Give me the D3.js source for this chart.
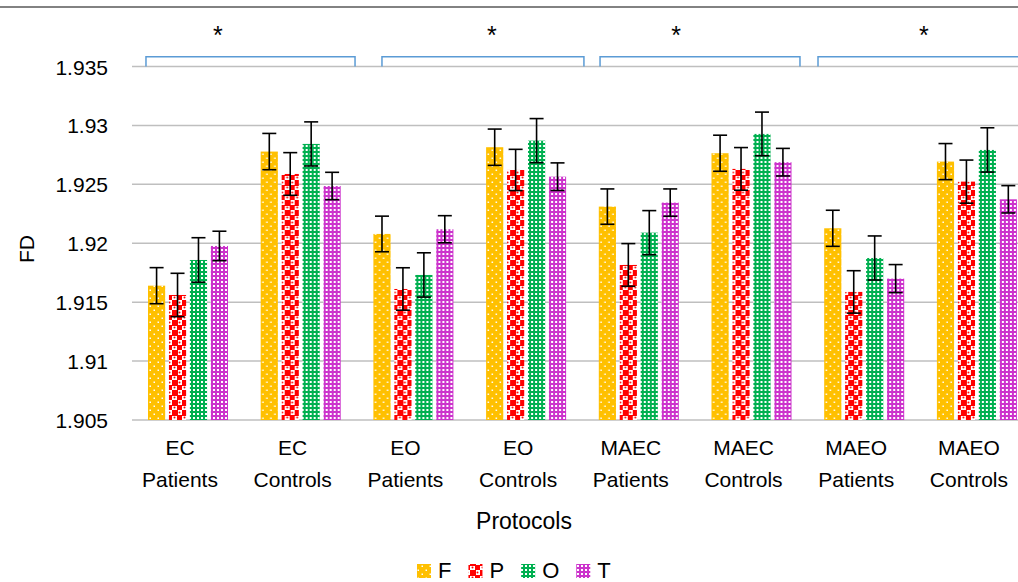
<!DOCTYPE html>
<html>
<head>
<meta charset="utf-8">
<script src="https://cdn.jsdelivr.net/npm/d3@7/dist/d3.min.js"></script>
<style>
  html, body { margin: 0; padding: 0; background: #fff; }
  svg { display: block; font-family: "Liberation Sans", Arial, sans-serif; }
</style>
</head>
<body>
<svg id="chart" width="1018" height="582"></svg>
<script>
// ---- data ----
const categories = ["EC Patients", "EC Controls", "EO Patients", "EO Controls",
                    "MAEC Patients", "MAEC Controls", "MAEO Patients", "MAEO Controls"];
const seriesNames = ["F", "P", "O", "T"];
const F = [1.91640, 1.92778, 1.92079, 1.92815, 1.92311, 1.92764, 1.92127, 1.92693];
const P = [1.91561, 1.92588, 1.91612, 1.92622, 1.91816, 1.92631, 1.91587, 1.92523];
const O = [1.91858, 1.92843, 1.91731, 1.92871, 1.92090, 1.92928, 1.91875, 1.92792];
const T = [1.91977, 1.92486, 1.92119, 1.92565, 1.92345, 1.92688, 1.91700, 1.92373];
const Ferr = [0.00153, 0.00154, 0.00151, 0.00154, 0.00150, 0.00153, 0.00153, 0.00153];
const Perr = [0.00184, 0.00181, 0.00180, 0.00175, 0.00181, 0.00181, 0.00180, 0.00183];
const Oerr = [0.00189, 0.00187, 0.00188, 0.00187, 0.00187, 0.00185, 0.00187, 0.00188];
const Terr = [0.00125, 0.00116, 0.00115, 0.00117, 0.00116, 0.00117, 0.00119, 0.00116];
const yTicks = [1.905, 1.91, 1.915, 1.92, 1.925, 1.93, 1.935];
const yTickLabels = ["1.905", "1.91", "1.915", "1.92", "1.925", "1.93", "1.935"];
// significance brackets (in category-index units) and asterisks
const bracketStart = [0.124, 2.218, 4.153, 6.087];
const bracketEnd   = [1.979, 4.010, 5.927, 8.000];
const bracketTop = 1.93583;
const starPos = [0.763, 3.194, 4.827, 7.027];
const starValue = 1.93690;

const values = { F: F, P: P, O: O, T: T };
const errors = { F: Ferr, P: Perr, O: Oerr, T: Terr };
const colors = { F: "#FFC000", P: "#FF0000", O: "#00B050", T: "#CC33CC" };

// ---- layout ----
const svg = d3.select("#chart");
const plotLeft = 132, plotRight = 1033.6, plotTop = 66.5, plotBottom = 420;

const x0 = d3.scaleBand().domain(categories).range([plotLeft, plotRight]).paddingInner(0).paddingOuter(0);
const x1 = d3.scaleBand().domain(seriesNames).range([16, 96]).paddingInner(0.18).paddingOuter(0);
const xIdx = d3.scaleLinear().domain([0, categories.length]).range([plotLeft, plotRight]);
const y = d3.scaleLinear().domain([1.905, 1.935]).range([plotBottom, plotTop]);

// ---- patterns ----
const defs = svg.append("defs");
// F: orange with sparse white dots
let p = defs.append("pattern").attr("id", "pat-F").attr("patternUnits", "userSpaceOnUse")
  .attr("width", 8).attr("height", 8);
p.append("rect").attr("width", 8).attr("height", 8).attr("fill", colors.F);
p.append("rect").attr("x", 1.5).attr("y", 1.5).attr("width", 1.5).attr("height", 1.5).attr("fill", "#fff");
p.append("rect").attr("x", 5.5).attr("y", 5.5).attr("width", 1.5).attr("height", 1.5).attr("fill", "#fff");
// P: red large checker
p = defs.append("pattern").attr("id", "pat-P").attr("patternUnits", "userSpaceOnUse")
  .attr("width", 10).attr("height", 10);
p.append("rect").attr("width", 10).attr("height", 10).attr("fill", "#fff");
p.append("rect").attr("x", 0).attr("y", 0).attr("width", 6).attr("height", 6).attr("fill", colors.P);
p.append("rect").attr("x", 5).attr("y", 5).attr("width", 5).attr("height", 5).attr("fill", colors.P);
p.append("circle").attr("cx", 7.5).attr("cy", 2.5).attr("r", 1).attr("fill", colors.P);
p.append("circle").attr("cx", 2.5).attr("cy", 7.5).attr("r", 1).attr("fill", colors.P);
// O: green with small white squares
p = defs.append("pattern").attr("id", "pat-O").attr("patternUnits", "userSpaceOnUse")
  .attr("width", 4).attr("height", 4);
p.append("rect").attr("width", 4).attr("height", 4).attr("fill", colors.O);
p.append("rect").attr("x", 1).attr("y", 1).attr("width", 2).attr("height", 2).attr("fill", "#fff");
// T: magenta with small white squares
p = defs.append("pattern").attr("id", "pat-T").attr("patternUnits", "userSpaceOnUse")
  .attr("width", 4).attr("height", 4);
p.append("rect").attr("width", 4).attr("height", 4).attr("fill", colors.T);
p.append("rect").attr("x", 1).attr("y", 1).attr("width", 2).attr("height", 2).attr("fill", "#fff");

// ---- top frame line ----
svg.append("line").attr("x1", 0).attr("x2", 1018).attr("y1", 7).attr("y2", 7)
  .attr("stroke", "#595959").attr("stroke-width", 1.5);

// ---- gridlines ----
svg.append("g").selectAll("line").data(yTicks).join("line")
  .attr("x1", plotLeft).attr("x2", plotRight)
  .attr("y1", d => y(d)).attr("y2", d => y(d))
  .attr("stroke", "#BFBFBF").attr("stroke-width", 1.5);

// ---- y tick labels ----
svg.append("g").selectAll("text").data(yTicks).join("text")
  .attr("x", 108).attr("y", d => y(d) + 8)
  .attr("text-anchor", "end").attr("font-size", 21).attr("fill", "#000")
  .text((d, i) => yTickLabels[i]);

// ---- y title ----
svg.append("text").attr("transform", "translate(34,249) rotate(-90)")
  .attr("text-anchor", "middle").attr("font-size", 21).text("FD");

// ---- bars ----
const groups = svg.append("g").selectAll("g").data(categories).join("g")
  .attr("transform", d => `translate(${x0(d)},0)`);
groups.selectAll("rect").data((c, i) => seriesNames.map(s => ({ s, v: values[s][i] })))
  .join("rect")
  .attr("x", d => x1(d.s)).attr("width", x1.bandwidth())
  .attr("y", d => y(d.v)).attr("height", d => y(1.905) - y(d.v))
  .attr("fill", d => `url(#pat-${d.s})`);

// ---- error bars ----
const eb = groups.selectAll("g.err").data((c, i) => seriesNames.map(s => ({ s, v: values[s][i], e: errors[s][i] })))
  .join("g").attr("class", "err")
  .attr("stroke", "#000").attr("stroke-width", 1.6);
eb.append("line")
  .attr("x1", d => x1(d.s) + x1.bandwidth() / 2).attr("x2", d => x1(d.s) + x1.bandwidth() / 2)
  .attr("y1", d => y(d.v + d.e)).attr("y2", d => y(d.v - d.e));
eb.append("line")
  .attr("x1", d => x1(d.s) + x1.bandwidth() / 2 - 7).attr("x2", d => x1(d.s) + x1.bandwidth() / 2 + 7)
  .attr("y1", d => y(d.v + d.e)).attr("y2", d => y(d.v + d.e));
eb.append("line")
  .attr("x1", d => x1(d.s) + x1.bandwidth() / 2 - 7).attr("x2", d => x1(d.s) + x1.bandwidth() / 2 + 7)
  .attr("y1", d => y(d.v - d.e)).attr("y2", d => y(d.v - d.e));

// ---- category labels ----
const catLabels = svg.append("g").selectAll("text").data(categories).join("text")
  .attr("text-anchor", "middle").attr("font-size", 21).attr("fill", "#000");
catLabels.each(function (d) {
  const parts = d.split(" ");
  const cx = x0(d) + 56 - 8;
  const t = d3.select(this);
  t.append("tspan").attr("x", cx).attr("y", 455).text(parts[0]);
  t.append("tspan").attr("x", cx).attr("y", 486.5).text(parts[1]);
});

// ---- x title ----
svg.append("text").attr("x", 524).attr("y", 529).attr("text-anchor", "middle")
  .attr("font-size", 23).text("Protocols");

// ---- brackets ----
svg.append("g").selectAll("path").data(bracketStart).join("path")
  .attr("d", (d, i) => `M${xIdx(d)},${y(1.935)}V${y(bracketTop)}H${xIdx(bracketEnd[i])}V${y(1.935)}`)
  .attr("fill", "none").attr("stroke", "#5B9BD5").attr("stroke-width", 1.5);
svg.append("g").selectAll("text").data(starPos).join("text")
  .attr("x", d => xIdx(d)).attr("y", y(starValue))
  .attr("text-anchor", "middle").attr("font-size", 25).text("*");

// ---- legend ----
const legend = svg.append("g");
let lx = 417;
seriesNames.forEach(s => {
  legend.append("rect").attr("x", lx).attr("y", 564).attr("width", 14).attr("height", 14)
    .attr("fill", `url(#pat-${s})`);
  const t = legend.append("text").attr("x", lx + 21).attr("y", 578).attr("font-size", 22).text(s);
  lx = lx + 21 + t.node().getComputedTextLength() + 17;
});
</script>
</body>
</html>
